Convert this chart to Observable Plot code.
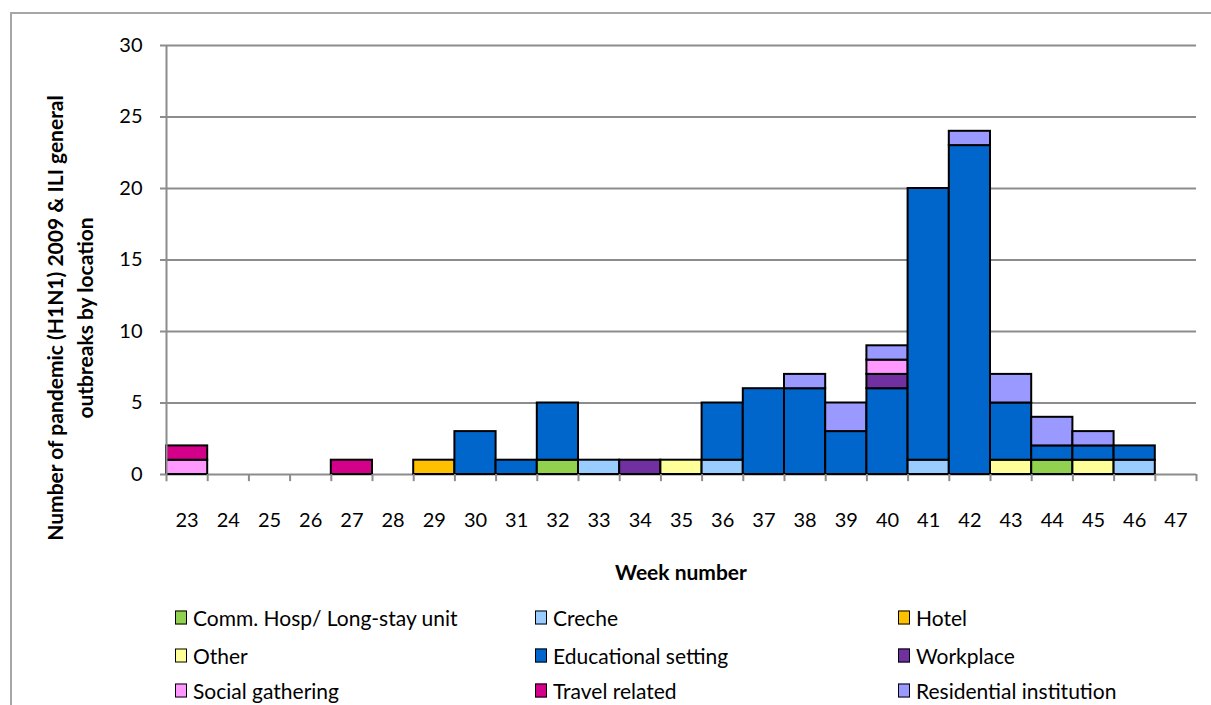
<!DOCTYPE html>
<html><head><meta charset="utf-8">
<script src="https://cdn.jsdelivr.net/npm/d3@7"></script>
<script src="https://cdn.jsdelivr.net/npm/@observablehq/plot@0.6"></script>
<style>
body{margin:0;background:#fff;font-family:Lato,"Open Sans",sans-serif;}
#wrap{position:relative;width:1211px;height:705px;overflow:hidden;}
#frame{position:absolute;left:10px;top:12px;width:1300px;height:800px;border-left:2px solid #a6a6a6;border-top:2px solid #a6a6a6;}
#chart{position:absolute;left:0;top:0;}
.ytitle{position:absolute;left:70px;top:318px;transform:translate(-50%,-50%) rotate(-90deg);font-weight:bold;font-size:21px;text-align:center;line-height:30px;white-space:nowrap;color:#000;}
.xtitle{position:absolute;left:681px;top:571px;transform:translate(-50%,-50%);font-weight:bold;font-size:21px;white-space:nowrap;}
.leg{position:absolute;font-size:21px;white-space:nowrap;display:flex;align-items:center;transform:translateY(-50%);}
.leg i{display:inline-block;width:10px;height:12px;border:1.5px solid #000;margin-right:6px;}
</style></head>
<body><div id="wrap"><div id="frame"></div><div id="chart"></div>
<div class="ytitle">Number of pandemic (H1N1) 2009 &amp; ILI general<br>outbreaks by location</div>
<div class="xtitle">Week number</div>
<div id="legend"></div>
</div>
<script>
const weeks = ["23","24","25","26","27","28","29","30","31","32","33","34","35","36","37","38","39","40","41","42","43","44","45","46","47"];
const seriesNames = ["Comm. Hosp/ Long-stay unit","Creche","Hotel","Other","Educational setting","Workplace","Social gathering","Travel related","Residential institution"];
const seriesColors = ["#92D050","#99CCFF","#FFC000","#FFFF99","#0066CC","#7030A0","#FF99FF","#D4008A","#9999FF"];
//                  23 24 25 26 27 28 29 30 31 32 33 34 35 36 37 38 39 40 41 42 43 44 45 46 47
const commHosp    = [0, 0, 0, 0, 0, 0, 0, 0, 0, 1, 0, 0, 0, 0, 0, 0, 0, 0, 0, 0, 0, 1, 0, 0, 0];
const creche      = [0, 0, 0, 0, 0, 0, 0, 0, 0, 0, 1, 0, 0, 1, 0, 0, 0, 0, 1, 0, 0, 0, 0, 1, 0];
const hotel       = [0, 0, 0, 0, 0, 0, 1, 0, 0, 0, 0, 0, 0, 0, 0, 0, 0, 0, 0, 0, 0, 0, 0, 0, 0];
const other       = [0, 0, 0, 0, 0, 0, 0, 0, 0, 0, 0, 0, 1, 0, 0, 0, 0, 0, 0, 0, 1, 0, 1, 0, 0];
const educational = [0, 0, 0, 0, 0, 0, 0, 3, 1, 4, 0, 0, 0, 4, 6, 6, 3, 6,19,23, 4, 1, 1, 1, 0];
const workplace   = [0, 0, 0, 0, 0, 0, 0, 0, 0, 0, 0, 1, 0, 0, 0, 0, 0, 1, 0, 0, 0, 0, 0, 0, 0];
const social      = [1, 0, 0, 0, 0, 0, 0, 0, 0, 0, 0, 0, 0, 0, 0, 0, 0, 1, 0, 0, 0, 0, 0, 0, 0];
const travel      = [1, 0, 0, 0, 1, 0, 0, 0, 0, 0, 0, 0, 0, 0, 0, 0, 0, 0, 0, 0, 0, 0, 0, 0, 0];
const residential = [0, 0, 0, 0, 0, 0, 0, 0, 0, 0, 0, 0, 0, 0, 0, 1, 2, 1, 0, 1, 2, 2, 1, 0, 0];
const yTicks = [0,5,10,15,20,25,30];

const seriesValues = [commHosp,creche,hotel,other,educational,workplace,social,travel,residential];
const rows = [];
weeks.forEach((w,i)=>seriesValues.forEach((vals,s)=>{ if(vals[i]>0) rows.push({week:w, series:seriesNames[s], value:vals[i]}); }));

const W = 1211, H = 600, mL = 166, mR = 15, mT = 45, mB = 126;
const bw = (W - mL - mR) / weeks.length;
const axisColor = "#8c8c8c";

const chart = Plot.plot({
  width: W, height: H,
  marginLeft: mL, marginRight: mR, marginTop: mT, marginBottom: mB,
  style: {fontFamily: 'Lato,"Open Sans",sans-serif', fontSize: "20px", color:"#000", background:"transparent"},
  x: {type:"band", domain: weeks, padding: 0, round: false, label: null},
  y: {domain:[0,30], ticks: yTicks, label: null},
  color: {domain: seriesNames, range: seriesColors},
  marks: [
    Plot.ruleY(yTicks, {stroke: axisColor, strokeWidth: 2}),
    Plot.barY(rows, Plot.stackY({order: seriesNames}, {x:"week", y:"value", z:"series", fill:"series", stroke:"#000", strokeWidth:2})),
    Plot.ruleX([weeks[0]], {dx: -bw/2, y1: -0.5, y2: 30, stroke: axisColor, strokeWidth: 2}),
    Plot.ruleX(weeks.slice(1), {x: d=>d, dx: -bw/2, y1: -0.5, y2: 0, stroke: axisColor, strokeWidth: 2}),
    Plot.ruleX([weeks[weeks.length-1]], {dx: bw/2, y1: -0.5, y2: 0, stroke: axisColor, strokeWidth: 2}),
    Plot.axisY({ticks: yTicks, tickSize: 6, tickPadding: 18, stroke: axisColor, strokeWidth: 2, fontSize: 20, label: null}),
    Plot.axisX({tickSize: 0, tickPadding: 38, fontSize: 20, label: null})
  ]
});
document.getElementById("chart").appendChild(chart);

const legPos = [[175,617],[535,617],[898,617],[175,655],[535,655],[898,655],[175,690],[535,690],[898,690]];
const leg = document.getElementById("legend");
seriesNames.forEach((n,i)=>{
  const d = document.createElement("div");
  d.className = "leg";
  d.style.left = legPos[i][0]+"px"; d.style.top = legPos[i][1]+"px";
  d.innerHTML = `<i style="background:${seriesColors[i]}"></i>${n}`;
  leg.appendChild(d);
});
</script></body></html>
